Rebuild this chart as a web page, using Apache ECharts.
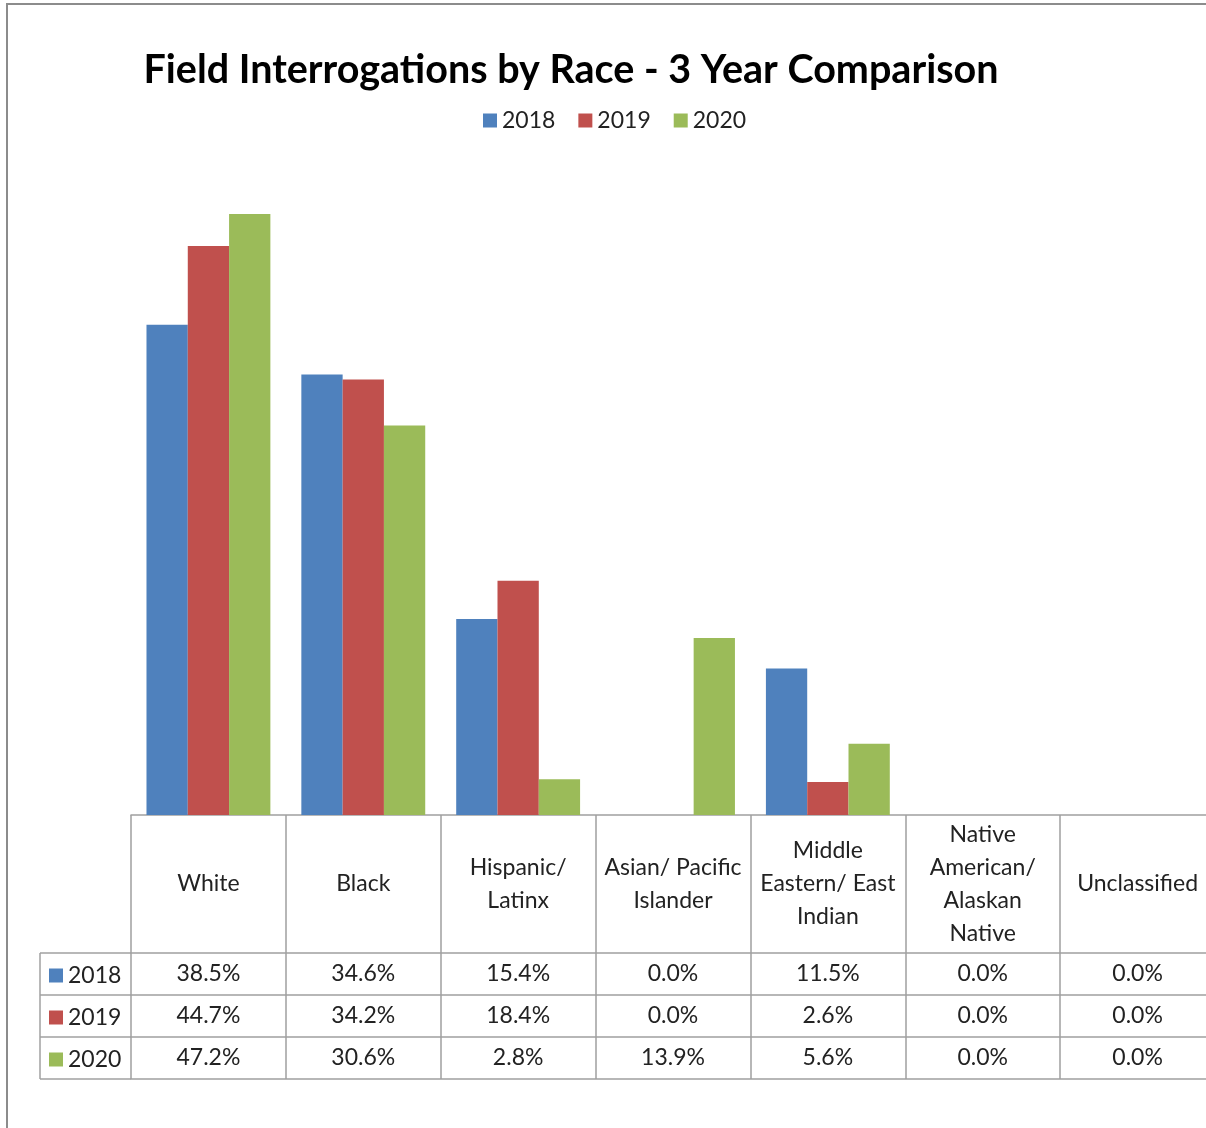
<!DOCTYPE html>
<html>
<head>
<meta charset="utf-8">
<script src="https://cdn.jsdelivr.net/npm/echarts@6/dist/echarts.min.js"></script>
<style>
html,body{margin:0;padding:0;background:#fff;overflow:hidden;}
#chart{position:absolute;left:0;top:0;width:1240px;height:1140px;}
</style>
</head>
<body>
<div id="chart"></div>
<script>
const categories = ['White','Black','Hispanic/\nLatinx','Asian/ Pacific\nIslander','Middle\nEastern/ East\nIndian','Native\nAmerican/\nAlaskan\nNative','Unclassified'];
const years = ['2018','2019','2020'];
const s2018 = [38.5, 34.6, 15.4, 0.0, 11.5, 0.0, 0.0];
const s2019 = [44.7, 34.2, 18.4, 0.0, 2.6, 0.0, 0.0];
const s2020 = [47.2, 30.6, 2.8, 13.9, 5.6, 0.0, 0.0];
const seriesValues = [s2018, s2019, s2020];
const colors = ['#4f81bd','#c0504d','#9bbb59'];

const FONT = 'Lato';
const TXT = '#222';
const LINE = '#a0a0a0';
const gridLeft = 131, gridTop = 178.4, gridH = 636.6, gridW = 1084;
const base = gridTop + gridH;
const rowOffsets = [138, 180, 222];

const xAxes = [{
  type:'category', data:categories, gridIndex:0, position:'bottom',
  axisLine:{show:true, lineStyle:{color:LINE, width:1.5}},
  axisTick:{show:true, interval:0, length:264, lineStyle:{color:LINE, width:1.5}},
  axisLabel:{show:true, interval:0, margin:69, verticalAlign:'middle', align:'center',
    fontFamily:FONT, fontSize:23, color:TXT, lineHeight:33}
}];
seriesValues.forEach((vals, r) => {
  xAxes.push({
    type:'category', data:categories, gridIndex:0, position:'bottom', offset:rowOffsets[r],
    axisLine:{show:true, lineStyle:{color:LINE, width:1.5}},
    axisTick:{show:false},
    axisLabel:{show:true, interval:0, margin:21, verticalAlign:'middle', align:'center',
      fontFamily:FONT, fontSize:23, color:TXT,
      formatter:(v, i) => vals[i].toFixed(1) + '%'}
  });
});
xAxes.push({
  type:'category', data:categories, gridIndex:0, position:'bottom', offset:264,
  axisLine:{show:true, lineStyle:{color:LINE, width:1.5}},
  axisTick:{show:false}, axisLabel:{show:false}
});

const stubLines = [];
[138,180,222,264].forEach(o => {
  stubLines.push({type:'line', shape:{x1:40, y1:base+o, x2:gridLeft, y2:base+o},
    style:{stroke:LINE, lineWidth:1.5}, silent:true});
});
stubLines.push({type:'line', shape:{x1:40, y1:base+138, x2:40, y2:base+264},
  style:{stroke:LINE, lineWidth:1.5}, silent:true});
stubLines.push({type:'rect', shape:{x:7, y:4, width:1400, height:1400},
  style:{stroke:'#8c8c8c', fill:null, lineWidth:2}, silent:true, z:-1});

const option = {
  backgroundColor:'#fff',
  animation:false,
  color:colors,
  title:{
    text:'Field Interrogations by Race - 3 Year Comparison',
    left:566, textAlign:'center', top:45,
    textStyle:{fontFamily:FONT, fontWeight:'bold', fontSize:39.5, color:'#000'}
  },
  legend:[{
    data:years, left:478, top:104,
    itemWidth:14, itemHeight:14, itemGap:23, icon:'rect',
    textStyle:{fontFamily:FONT, fontSize:23, color:TXT}
  },{
    data:years, orient:'vertical', left:44, top:959,
    itemWidth:14, itemHeight:14, itemGap:19, icon:'rect',
    textStyle:{fontFamily:FONT, fontSize:23, color:TXT}
  }],
  grid:{left:gridLeft, top:gridTop, width:gridW, height:gridH, containLabel:false},
  xAxis:xAxes,
  yAxis:{type:'value', min:0, max:50, show:false, splitLine:{show:false}},
  series: seriesValues.map((vals, r) => ({
    name:years[r], type:'bar', data:vals, xAxisIndex:0,
    barGap:'0%', barCategoryGap:'20%',
    itemStyle:{color:colors[r]}
  })),
  graphic:stubLines
};
const chart = echarts.init(document.getElementById('chart'), null, {renderer:'canvas'});
chart.setOption(option);
</script>
</body>
</html>
